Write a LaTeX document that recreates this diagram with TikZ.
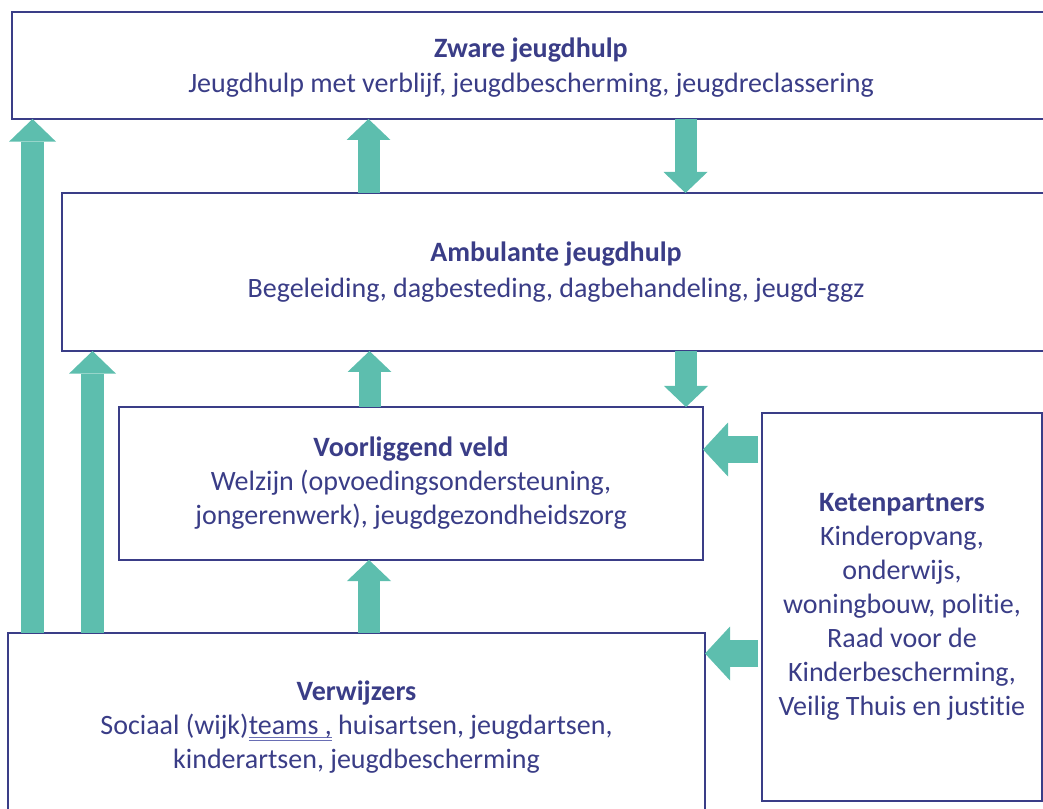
\documentclass[tikz,border=0pt]{standalone}
\usepackage{fontspec}
\setmainfont{Carlito}[Ligatures={NoCommon}]
\usetikzlibrary{arrows.meta}
\definecolor{navy}{RGB}{58,61,135}
\definecolor{teal2}{RGB}{93,190,174}
\definecolor{ulc}{RGB}{105,110,180}
\newlength\dulw
\newcommand\dblul[1]{\settowidth\dulw{#1}\rlap{\textcolor{ulc}{\raisebox{-2.8pt}{\rule{\dulw}{0.75pt}}}}\rlap{\textcolor{ulc}{\raisebox{-4.6pt}{\rule{\dulw}{0.75pt}}}}#1}
\begin{document}
\begin{tikzpicture}[x=0.75pt,y=-0.75pt,
 box/.style={draw=navy, line width=1.6pt, fill=white, text=navy, align=center, inner sep=0pt, outer sep=0pt, font=\fontsize{21pt}{25.5pt}\selectfont},
 vbar/.style={draw=teal2, line width=16.5pt, -{Triangle[width=33pt,length=15.75pt,line width=0pt]}},
 vbarw/.style={draw=teal2, line width=17.25pt, -{Triangle[width=35.25pt,length=17pt,line width=0pt]}},
 hbar/.style={draw=teal2, line width=20.25pt, -{Triangle[width=40.5pt,length=18.75pt,line width=0pt]}, shorten <=3pt}]
\useasboundingbox (0,0) rectangle (1043,809);
\clip (0,0) rectangle (1043,809);
\node[box, minimum width=778.5pt, minimum height=80.25pt, text depth=-3pt] (zware) at (531,65.5)
  {\textbf{Zware jeugdhulp}\\[1pt]Jeugdhulp met verblijf, jeugdbescherming, jeugdreclassering};
\node[box, minimum width=741pt, minimum height=118.5pt] (amb) at (556,272)
  {\textbf{Ambulante jeugdhulp}\\[1pt]Begeleiding, dagbesteding, dagbehandeling, jeugd-ggz};
\node[box, minimum width=438pt, minimum height=114.75pt] (voor) at (411,483.5)
  {\textbf{Voorliggend veld}\\Welzijn (opvoedingsondersteuning,\\jongerenwerk), jeugdgezondheidszorg};
\node[box, minimum width=210pt, minimum height=291pt] (keten) at (902,607)
  {\textbf{Ketenpartners}\\Kinderopvang,\\onderwijs,\\woningbouw, politie,\\Raad voor de\\Kinderbescherming,\\Veilig Thuis en justitie};
\node[box, minimum width=522.75pt, minimum height=141pt] (verw) at (356.5,727)
  {\textbf{Verwijzers}\\Sociaal (wijk)\dblul{teams ,} huisartsen, jeugdartsen,\\kinderartsen, jeugdbescherming};
\coordinate (c1) at (32.5,0);
\coordinate (c2) at (92.5,0);
\coordinate (c3) at (368.5,0);
\coordinate (c4) at (685.5,0);
\coordinate (c5) at (369.5,0);
\coordinate (c6) at (686,0);
\coordinate (c7) at (369,0);
\coordinate (h1) at (0,449.5);
\coordinate (h2) at (0,653.5);
\draw[vbarw] (verw.north -| c1) -- (zware.south -| c1);
\draw[vbarw] (verw.north -| c2) -- (amb.south -| c2);
\draw[vbar] (amb.north -| c3) -- (zware.south -| c3);
\draw[vbar] (zware.south -| c4) -- (amb.north -| c4);
\draw[vbar] (voor.north -| c5) -- (amb.south -| c5);
\draw[vbar] (amb.south -| c6) -- (voor.north -| c6);
\draw[vbar] (verw.north -| c7) -- (voor.south -| c7);
\draw[hbar] (h1 -| keten.west) -- (h1 -| voor.east);
\draw[hbar] (h2 -| keten.west) -- (h2 -| verw.east);
\end{tikzpicture}
\end{document}
